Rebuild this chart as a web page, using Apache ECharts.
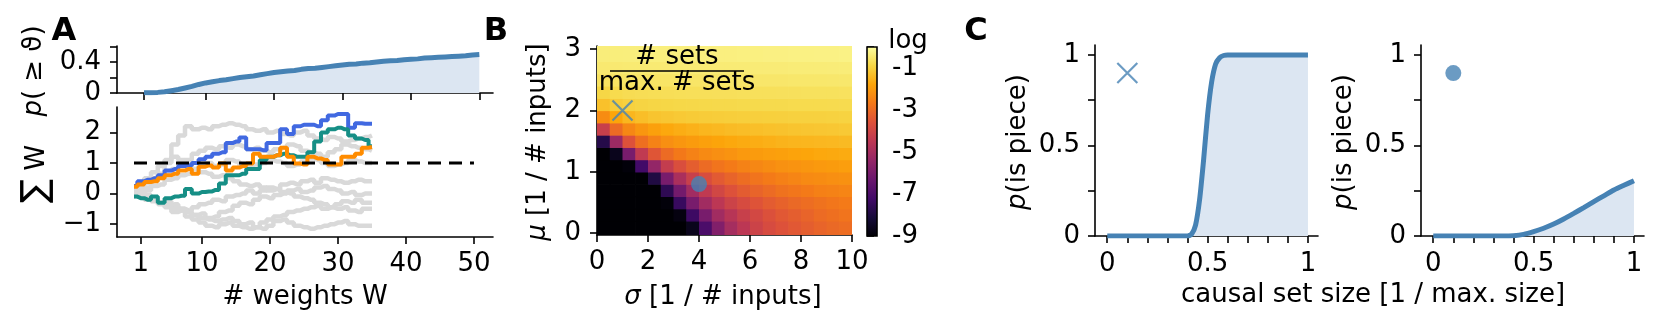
<!DOCTYPE html>
<html>
<head>
<meta charset="utf-8">
<script src="https://cdn.jsdelivr.net/npm/echarts@6/dist/echarts.min.js"></script>
<style>
  html, body { margin: 0; background: #fff; }
  #chart { width: 1661px; height: 332px; }
</style>
</head>
<body>
<div id="chart"></div>
<script>
// ---------------- data ----------------
// A (top): fraction of weights above threshold
const weightsTop = [1,2,3,4,5,6,7,8,9,10,11,12,13,14,15,16,17,18,19,20,21,22,23,24,25,26,27,28,29,30,31,32,33,34,35,36,37,38,39,40,41,42,43,44,45,46,47,48,49,50];
const pAbove = [0.002,0.004,0.008,0.015,0.03,0.045,0.065,0.085,0.11,0.13,0.145,0.16,0.17,0.185,0.2,0.21,0.22,0.235,0.25,0.265,0.275,0.285,0.29,0.305,0.315,0.32,0.33,0.34,0.35,0.36,0.37,0.375,0.385,0.39,0.4,0.41,0.415,0.42,0.43,0.435,0.44,0.45,0.455,0.46,0.465,0.47,0.475,0.48,0.49,0.495];

// A (bottom): summed weights, random walks
const walkX = [0,1,2,3,4,5,6,7,8,9,10,11,12,13,14,15,16,17,18,19,20,21,22,23,24,25,26,27,28,29,30,31,32,33,34,35];
const walkBlue = [0.25,0.4,0.45,0.5,0.6,0.75,0.8,0.9,0.92,1.0,1.12,1.2,1.3,1.35,1.65,1.7,1.83,1.45,1.45,1.42,1.65,1.65,2.1,1.95,2.2,2.25,2.25,2.2,2.4,2.55,2.6,2.6,2.15,2.3,2.28,2.28];
const walkTeal = [-0.1,-0.15,-0.2,-0.1,-0.3,-0.15,-0.1,-0.07,0.15,0.0,0.05,0.07,0.12,0.33,0.6,0.6,0.65,0.8,0.8,1.1,1.2,1.25,1.3,1.25,1.2,1.2,1.35,1.7,2.0,2.1,2.15,2.1,1.9,1.8,1.75,1.55];
const walkOrange = [0.22,0.3,0.38,0.4,0.5,0.6,0.65,0.75,0.8,0.65,0.88,0.92,0.85,0.98,0.75,0.85,0.9,0.98,1.3,1.2,1.2,1.25,1.5,1.2,0.98,0.95,1.2,1.15,1.1,0.95,0.95,1.2,1.2,1.3,1.5,1.52];
const walksGrey = [
  [0,0.1,0.2,0.4,0.65,1.0,1.6,1.9,2.2,2.1,2.15,2.1,2.2,2.25,2.3,2.25,2.2,2.1,2.05,2.1,2.0,2.05,1.95,1.9,2.0,2.05,1.9,1.8,1.75,1.85,1.8,1.7,1.75,1.8,1.85,1.9],
  [0.1,0.2,0.35,0.5,0.55,0.7,0.8,1.0,1.1,1.3,1.4,1.5,1.45,1.55,1.5,1.6,1.55,1.45,1.5,1.4,1.35,1.45,1.5,1.6,1.55,1.4,1.35,1.3,1.2,1.35,1.45,1.6,1.55,1.5,1.45,1.4],
  [-0.1,0.0,0.1,0.25,0.3,0.45,0.5,0.6,0.65,0.8,0.9,1.0,0.9,0.95,1.1,1.05,0.9,0.85,0.95,1.0,1.1,1.05,1.0,0.9,0.95,1.05,1.15,1.1,1.0,0.9,0.95,1.0,1.1,1.05,1.0,1.0],
  [0.0,-0.1,-0.2,-0.15,-0.3,-0.4,-0.35,-0.5,-0.55,-0.45,-0.35,-0.3,-0.2,-0.25,-0.1,-0.05,0.0,0.1,0.0,0.1,0.2,0.15,0.3,0.35,0.3,0.4,0.45,0.35,0.5,0.45,0.4,0.35,0.4,0.45,0.4,0.4],
  [-0.05,0.0,-0.1,-0.2,-0.3,-0.25,-0.4,-0.5,-0.6,-0.7,-0.65,-0.8,-0.75,-0.6,-0.55,-0.4,-0.3,-0.35,-0.2,-0.1,-0.15,-0.05,0.0,0.1,0.15,0.05,0.1,0.2,0.25,0.15,0.1,0.0,0.05,-0.05,0.0,0.0],
  [0.0,-0.1,-0.15,-0.25,-0.35,-0.45,-0.6,-0.55,-0.75,-0.85,-0.95,-1.05,-1.1,-1.0,-0.95,-1.05,-1.1,-1.15,-1.1,-0.95,-0.85,-0.75,-0.7,-0.6,-0.55,-0.5,-0.45,-0.4,-0.5,-0.45,-0.35,-0.25,-0.3,-0.2,-0.3,-0.3],
  [0.1,0.0,-0.05,-0.2,-0.3,-0.35,-0.5,-0.55,-0.6,-0.7,-0.8,-0.85,-0.9,-0.85,-0.8,-0.9,-1.0,-0.95,-1.1,-1.15,-1.05,-0.9,-0.85,-0.95,-1.05,-1.1,-1.15,-1.1,-1.05,-1.0,-0.95,-0.9,-1.0,-1.05,-1.05,-1.05],
  [0.2,0.35,0.5,0.7,0.9,1.1,1.2,1.1,0.95,0.8,0.7,0.65,0.55,0.6,0.5,0.4,0.3,0.25,0.3,0.2,0.1,0.15,0.05,0.0,-0.1,-0.15,-0.2,-0.3,-0.35,-0.45,-0.5,-0.45,-0.55,-0.6,-0.5,-0.5]
];
const thresholdX = [0, 50];
const threshold = 1;

// B: log10(# sets / max. # sets) on a sigma x mu grid (rows: mu from bottom to top)
const sigmaCenters = [0.25,0.75,1.25,1.75,2.25,2.75,3.25,3.75,4.25,4.75,5.25,5.75,6.25,6.75,7.25,7.75,8.25,8.75,9.25,9.75];
const muCenters = [0.1,0.3,0.5,0.7,0.9,1.1,1.3,1.5,1.7,1.9,2.1,2.3,2.5,2.7,2.9];
const logSets = [
  [-9,-9,-9,-9,-9,-9,-9,-8.6,-7.0,-5.8,-5.0,-4.5,-4.1,-3.8,-3.6,-3.45,-3.3,-3.15,-3.05,-2.95],
  [-9,-9,-9,-9,-9,-9,-8.8,-7.3,-6.0,-5.1,-4.6,-4.2,-3.9,-3.65,-3.45,-3.3,-3.15,-3.0,-2.9,-2.8],
  [-9,-9,-9,-9,-9,-8.9,-7.4,-6.0,-5.1,-4.5,-4.1,-3.8,-3.55,-3.35,-3.2,-3.05,-2.95,-2.85,-2.75,-2.65],
  [-9,-9,-9,-9,-9,-7.6,-6.1,-5.1,-4.4,-3.95,-3.6,-3.35,-3.15,-3.0,-2.85,-2.75,-2.65,-2.55,-2.5,-2.45],
  [-9,-9,-9,-9,-7.9,-6.0,-4.9,-4.2,-3.75,-3.4,-3.15,-2.95,-2.8,-2.65,-2.55,-2.45,-2.35,-2.3,-2.25,-2.2],
  [-9,-9,-8.9,-7.2,-5.4,-4.3,-3.7,-3.3,-3.0,-2.8,-2.65,-2.5,-2.4,-2.3,-2.2,-2.15,-2.1,-2.05,-2.0,-1.95],
  [-9,-8.6,-6.0,-4.4,-3.5,-3.0,-2.7,-2.5,-2.35,-2.25,-2.15,-2.05,-2.0,-1.95,-1.9,-1.85,-1.8,-1.75,-1.72,-1.7],
  [-7.8,-5.2,-3.6,-2.9,-2.5,-2.25,-2.1,-2.0,-1.9,-1.82,-1.75,-1.7,-1.65,-1.6,-1.55,-1.52,-1.5,-1.47,-1.45,-1.42],
  [-4.2,-3.0,-2.4,-2.1,-1.9,-1.75,-1.65,-1.58,-1.5,-1.45,-1.4,-1.36,-1.33,-1.3,-1.27,-1.25,-1.22,-1.2,-1.18,-1.16],
  [-2.3,-1.8,-1.5,-1.35,-1.25,-1.2,-1.15,-1.12,-1.1,-1.08,-1.06,-1.05,-1.04,-1.03,-1.02,-1.01,-1.0,-1.0,-0.99,-0.98],
  [-1.3,-1.1,-1.0,-0.95,-0.92,-0.9,-0.88,-0.87,-0.86,-0.85,-0.85,-0.84,-0.84,-0.83,-0.83,-0.82,-0.82,-0.82,-0.81,-0.81],
  [-0.9,-0.82,-0.78,-0.76,-0.75,-0.74,-0.73,-0.72,-0.72,-0.71,-0.71,-0.7,-0.7,-0.7,-0.69,-0.69,-0.68,-0.68,-0.68,-0.67],
  [-0.65,-0.62,-0.61,-0.6,-0.6,-0.59,-0.59,-0.58,-0.58,-0.57,-0.57,-0.57,-0.56,-0.56,-0.56,-0.55,-0.55,-0.55,-0.54,-0.54],
  [-0.5,-0.49,-0.48,-0.48,-0.47,-0.47,-0.46,-0.46,-0.46,-0.45,-0.45,-0.45,-0.44,-0.44,-0.44,-0.43,-0.43,-0.43,-0.42,-0.42],
  [-0.4,-0.39,-0.38,-0.38,-0.37,-0.37,-0.36,-0.36,-0.35,-0.35,-0.35,-0.34,-0.34,-0.33,-0.33,-0.32,-0.32,-0.31,-0.31,-0.3]
];
const crossPoint = [1, 2];     // sigma, mu
const dotPoint = [4, 0.8];
const cbarRange = [-9, 0];
const cbarTicks = [-9,-8,-7,-6,-5,-4,-3,-2,-1,0];
const cbarLabels = [-9,-7,-5,-3,-1];

// C: probability of being a piece vs. causal set size
const sizeLeft = [0,0.1,0.2,0.3,0.4,0.42,0.44,0.46,0.48,0.5,0.52,0.54,0.56,0.58,0.6,0.7,0.8,0.9,1.0];
const pieceLeft = [0,0,0,0,0,0.01,0.06,0.2,0.42,0.67,0.85,0.95,0.985,0.997,1,1,1,1,1];
const sizeRight = [0,0.05,0.1,0.15,0.2,0.25,0.3,0.35,0.4,0.45,0.5,0.55,0.6,0.65,0.7,0.75,0.8,0.85,0.9,0.95,1.0];
const pieceRight = [0,0,0,0,0,0,0,0,0.002,0.009,0.024,0.043,0.066,0.094,0.125,0.157,0.19,0.222,0.254,0.28,0.305];
const markerC = [0.1, 0.9];

// ---------------- styles ----------------
const FONT = 'DejaVu Sans';
const FS = 26;
const STEEL = '#4682b4';
const FILL = '#dce6f2';
const GREY = '#d9d9d9';
const INFERNO = ['#000004','#160b39','#420a68','#6a176e','#932667','#bc3754','#dd513a','#f37819','#fca50a','#f6d746','#fcffa4'];

const chart = echarts.init(document.getElementById('chart'), null, { renderer: 'canvas' });

// 通用坐标轴样式
function axis(opt) {
  return Object.assign({
    type: 'value',
    splitLine: { show: false },
    axisLine: { show: true, onZero: false, lineStyle: { color: '#000', width: 1.6 } },
    axisTick: { show: true, inside: false, length: 7, lineStyle: { color: '#000', width: 1.6 },
      customValues: opt.ticks },
    axisLabel: { show: opt.labels !== undefined, customValues: opt.labels, margin: opt.margin || 14,
      color: '#000', fontSize: FS, fontFamily: FONT,
      formatter: opt.formatter || function (v) { return v < 0 ? '\u2212' + Math.abs(v) : String(v); } }
  }, opt.extra || {});
}

function pairs(xs, ys) {
  return xs.map((x, i) => [x, ys[i]]);
}

// heatmap cells
const heatData = [];
muCenters.forEach((m, r) => {
  sigmaCenters.forEach((s, c) => heatData.push([s, m, logSets[r][c]]));
});
const SIG_HALF = 0.25, MU_HALF = 0.1;
const B_YMIN = -0.03, B_YMAX = 3.05;

const series = [];
// A top
series.push({
  type: 'line', xAxisIndex: 0, yAxisIndex: 0, data: pairs(weightsTop, pAbove),
  showSymbol: false, lineStyle: { color: STEEL, width: 5 }, areaStyle: { color: FILL, opacity: 1 }, z: 3
});
// A bottom grey walks
walksGrey.forEach(w => series.push({
  type: 'line', xAxisIndex: 1, yAxisIndex: 1, step: 'middle', data: pairs(walkX, w),
  showSymbol: false, lineStyle: { color: GREY, width: 4.5 }, z: 2
}));
[[walkBlue, '#4169e1'], [walkTeal, '#168f86'], [walkOrange, '#ff8c00']].forEach(([w, col]) => series.push({
  type: 'line', xAxisIndex: 1, yAxisIndex: 1, step: 'middle', data: pairs(walkX, w),
  showSymbol: false, lineStyle: { color: col, width: 4 }, z: 3
}));
series.push({
  type: 'line', xAxisIndex: 1, yAxisIndex: 1, data: thresholdX.map(x => [x, threshold]),
  showSymbol: false, lineStyle: { color: '#000', width: 3, type: [13, 8] }, z: 4
});
// B heatmap
const heatIndex = series.length;
series.push({
  type: 'custom', xAxisIndex: 2, yAxisIndex: 2, data: heatData,
  dimensions: ['sigma', 'mu', 'log'], encode: { x: 0, y: 1 },
  renderItem: function (params, api) {
    const s = api.value(0), m = api.value(1);
    let top = m + MU_HALF, bottom = m - MU_HALF;
    if (top > 2.99) top = B_YMAX;
    if (bottom < 0.01) bottom = B_YMIN;
    const p0 = api.coord([s - SIG_HALF, top]);
    const p1 = api.coord([s + SIG_HALF, bottom]);
    return {
      type: 'rect',
      shape: { x: p0[0], y: p0[1], width: p1[0] - p0[0] + 0.7, height: p1[1] - p0[1] + 0.7 },
      style: { fill: api.visual('color') }
    };
  },
  clip: true, z: 1
});
series.push({
  type: 'scatter', xAxisIndex: 2, yAxisIndex: 2, data: [crossPoint],
  symbol: 'path://M0,0L10,10M10,0L0,10', symbolSize: 20,
  itemStyle: { color: 'none', borderColor: STEEL, borderWidth: 2.2 }, z: 5
});
series.push({
  type: 'scatter', xAxisIndex: 2, yAxisIndex: 2, data: [dotPoint],
  symbol: 'circle', symbolSize: 16, itemStyle: { color: STEEL }, z: 5
});
// colorbar
series.push({
  type: 'custom', xAxisIndex: 3, yAxisIndex: 3, data: [cbarRange],
  renderItem: function (params, api) {
    const p0 = api.coord([0, api.value(1)]);
    const p1 = api.coord([1, api.value(0)]);
    const stops = INFERNO.map((c, i) => ({ offset: i / (INFERNO.length - 1), color: c }));
    return {
      type: 'rect',
      shape: { x: p0[0], y: p0[1], width: p1[0] - p0[0], height: p1[1] - p0[1] },
      style: { fill: new echarts.graphic.LinearGradient(0, 1, 0, 0, stops), stroke: '#000', lineWidth: 1.6 }
    };
  }
});
// C left
series.push({
  type: 'line', xAxisIndex: 4, yAxisIndex: 4, data: pairs(sizeLeft, pieceLeft), smooth: 0.2,
  showSymbol: false, lineStyle: { color: STEEL, width: 5 }, areaStyle: { color: FILL, opacity: 1 }
});
series.push({
  type: 'scatter', xAxisIndex: 4, yAxisIndex: 4, data: [markerC],
  symbol: 'path://M0,0L10,10M10,0L0,10', symbolSize: 20,
  itemStyle: { color: 'none', borderColor: STEEL, borderWidth: 2.2 }
});
// C right
series.push({
  type: 'line', xAxisIndex: 5, yAxisIndex: 5, data: pairs(sizeRight, pieceRight), smooth: 0.2,
  showSymbol: false, lineStyle: { color: STEEL, width: 5 }, areaStyle: { color: FILL, opacity: 1 }
});
series.push({
  type: 'scatter', xAxisIndex: 5, yAxisIndex: 5, data: [markerC],
  symbol: 'circle', symbolSize: 16, itemStyle: { color: STEEL }
});

const cTicksX = [0,0.1,0.2,0.3,0.4,0.5,0.6,0.7,0.8,0.9,1];
const cLabelsX = [0, 0.5, 1];
const cTicksY = [0, 0.25, 0.5, 0.75, 1];
const cLabelsY = [0, 0.5, 1];
const plain = v => String(v);
const italic = { i: { fontStyle: 'italic', fontSize: FS, fontFamily: FONT } };

function text(x, y, str, extra) {
  return {
    type: 'text', x: x, y: y, z: 100, rotation: (extra && extra.rotation) || 0, silent: true,
    style: Object.assign({ text: str, align: 'center', verticalAlign: 'middle', fill: '#000',
      fontSize: FS, fontFamily: FONT }, (extra && extra.style) || {})
  };
}

const option = {
  animation: false,
  backgroundColor: '#fff',
  grid: [
    { left: 117, top: 46, width: 376, height: 47, outerBoundsMode: 'none' },
    { left: 117, top: 107, width: 376, height: 130, outerBoundsMode: 'none' },
    { left: 597, top: 46, width: 255, height: 189, outerBoundsMode: 'none' },
    { left: 867, top: 47, width: 10, height: 189, outerBoundsMode: 'none' },
    { left: 1095, top: 45, width: 223, height: 191, outerBoundsMode: 'none' },
    { left: 1421, top: 45, width: 223, height: 191, outerBoundsMode: 'none' }
  ],
  xAxis: [
    axis({ ticks: [1,10,20,30,40,50], extra: { gridIndex: 0, min: -2.95, max: 52 } }),
    axis({ ticks: [1,10,20,30,40,50], labels: [1,10,20,30,40,50], margin: 14, extra: { gridIndex: 1, min: -2.5, max: 52.8 } }),
    axis({ ticks: [0,2,4,6,8,10], labels: [0,2,4,6,8,10], extra: { gridIndex: 2, min: 0, max: 10 } }),
    { type: 'value', gridIndex: 3, min: 0, max: 1, show: false },
    axis({ ticks: cTicksX, labels: cLabelsX, margin: 15, formatter: plain, extra: { gridIndex: 4, min: -0.061, max: 1.05 } }),
    axis({ ticks: cTicksX, labels: cLabelsX, margin: 15, formatter: plain, extra: { gridIndex: 5, min: -0.061, max: 1.05 } })
  ],
  yAxis: [
    axis({ ticks: [0,0.2,0.4,0.6], labels: [0,0.4], margin: 16, extra: { gridIndex: 0, min: 0, max: 0.606 } }),
    axis({ ticks: [-1,0,1,2], labels: [-1,0,1,2], margin: 16, extra: { gridIndex: 1, min: -1.42, max: 2.83 } }),
    axis({ ticks: [0,1,2,3], labels: [0,1,2,3], margin: 16, extra: { gridIndex: 2, min: B_YMIN, max: B_YMAX } }),
    axis({ ticks: cbarTicks, labels: cbarLabels, margin: 15, formatter: plain,
      extra: { gridIndex: 3, min: -9, max: 0, position: 'right', axisLine: { show: false } } }),
    axis({ ticks: cTicksY, labels: cLabelsY, margin: 15, formatter: plain, extra: { gridIndex: 4, min: 0, max: 1.055 } }),
    axis({ ticks: cTicksY, labels: cLabelsY, margin: 15, formatter: plain, extra: { gridIndex: 5, min: 0, max: 1.055 } })
  ],
  visualMap: {
    type: 'continuous', show: false, seriesIndex: heatIndex, dimension: 2,
    min: -9, max: 0, inRange: { color: INFERNO }
  },
  graphic: [
    // panel letters
    text(64, 32, 'A', { style: { fontWeight: 'bold', fontSize: 32 } }),
    text(496, 32, 'B', { style: { fontWeight: 'bold', fontSize: 32 } }),
    text(976, 32, 'C', { style: { fontWeight: 'bold', fontSize: 32 } }),
    // panel A labels
    text(34, 71, '{i|p}( \u2265 \u03d1)', { rotation: Math.PI / 2, style: { rich: italic } }),
    text(37, 174, '{s|\u2211} {w|W}', { rotation: Math.PI / 2, style: { rich: {
      s: { fontSize: 36, fontFamily: FONT, verticalAlign: 'middle' },
      w: { fontSize: FS, fontFamily: FONT, verticalAlign: 'middle' } } } }),
    text(305, 297, '# weights W'),
    // panel B labels
    text(538, 142, '{i|\u03bc} [1 / # inputs]', { rotation: Math.PI / 2, style: { rich: italic } }),
    text(723, 297, '{i|\u03c3} [1 / # inputs]', { style: { rich: italic } }),
    text(677, 57, '# sets'),
    { type: 'line', z: 100, silent: true, shape: { x1: 610, y1: 71, x2: 744, y2: 71 }, style: { stroke: '#000', lineWidth: 1.6 } },
    text(677, 83, 'max. # sets'),
    text(908, 41, 'log'),
    // panel C labels
    text(1018, 142, '{i|p}(is piece)', { rotation: Math.PI / 2, style: { rich: italic } }),
    text(1344, 142, '{i|p}(is piece)', { rotation: Math.PI / 2, style: { rich: italic } }),
    text(1373, 295, 'causal set size [1 / max. size]')
  ],
  series: series
};

chart.setOption(option);
</script>
</body>
</html>
